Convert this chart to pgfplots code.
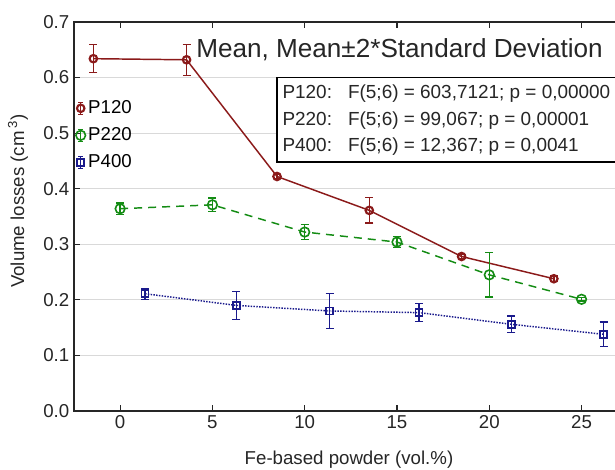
\documentclass[border=0pt]{standalone}
\usepackage{fontspec}
\setmainfont{Liberation Sans}
\usepackage{pgfplots}
\pgfplotsset{compat=1.18}
\definecolor{cred}{RGB}{139,26,26}
\definecolor{cgreen}{RGB}{20,140,20}
\definecolor{cblue}{RGB}{26,26,140}
\begin{document}
\begin{tikzpicture}
\begin{axis}[
  scale only axis,
  width=412.5pt, height=291.75pt,
  xmin=-2.5, xmax=27.3, ymin=0, ymax=0.7,
  xtick={0,5,10,15,20,25},
  ytick={0,0.1,0.2,0.3,0.4,0.5,0.6,0.7},
  /pgf/number format/assume math mode=true,
  yticklabel style={/pgf/number format/fixed,/pgf/number format/fixed zerofill,/pgf/number format/precision=1},
  tick label style={font=\fontsize{14}{16}\selectfont, text=black!85},
  label style={font=\fontsize{14}{16}\selectfont, text=black!85},
  axis line style={line width=1.1pt, black!85},
  tick align=inside,
  tick style={black!85, line width=0.8pt},
  ymajorgrids,
  grid style={gray!30, line width=0.9pt},
  xlabel={Fe-based powder (vol.\%)},
  ylabel={Volume losses (cm\,\textsuperscript{3})},
  x label style={at={(axis description cs:0.5,-0.126)}, anchor=center},
  y label style={at={(axis description cs:-0.102,0.54)}, anchor=center},
  legend style={at={(axis description cs:0.003,0.805)}, anchor=north west, draw=none, fill=none,
    font=\fontsize{14}{16}\selectfont, row sep=5pt, inner xsep=0pt, inner ysep=0pt},
  legend cell align=left,
  legend image code/.code={
    \draw[#1, solid, mark=none, line width=0.9pt] (0.14cm,-0.16cm) -- (0.14cm,0.16cm)
      (0.08cm,-0.16cm) -- (0.20cm,-0.16cm) (0.08cm,0.16cm) -- (0.20cm,0.16cm);
    \draw[#1, solid] plot coordinates {(0.14cm,0cm)};
  },
  clip=false,
]
\addplot[cred, line width=1.1pt, mark=o, mark size=2.8pt, mark options={solid, line width=1.6pt, fill=white},
  error bars/.cd, y dir=both, y explicit,
  error bar style={line width=1pt, solid}, error mark options={line width=1pt, mark size=3pt, solid, rotate=90}]
  table[x=x, y=y, y error=e] {
  x     y      e
  -1.45 0.634  0.025
  3.6   0.632  0.028
  8.5   0.422  0.004
  13.5  0.361  0.023
  18.5  0.278  0.004
  23.5  0.238  0.005
};
\addlegendentry{P120}
\addplot[cgreen, line width=1.1pt, dash pattern=on 6pt off 4.5pt, mark=o, mark size=3.6pt, mark options={solid, line width=1.2pt, fill=white},
  error bars/.cd, y dir=both, y explicit,
  error bar style={line width=1pt, solid}, error mark options={line width=1pt, mark size=3pt, solid, rotate=90}]
  table[x=x, y=y, y error=e] {
  x     y      e
  0     0.364  0.010
  5     0.371  0.012
  10    0.322  0.013
  15    0.304  0.010
  20    0.245  0.040
  25    0.201  0.003
};
\addlegendentry{P220}
\addplot[cblue, line width=1.1pt, densely dotted, mark=square, mark size=2.6pt, mark options={solid, line width=1.2pt, fill=white},
  error bars/.cd, y dir=both, y explicit,
  error bar style={line width=1pt, solid}, error mark options={line width=1pt, mark size=3pt, solid, rotate=90}]
  table[x=x, y=y, y error=e] {
  x     y      e
  1.35  0.211  0.010
  6.3   0.190  0.025
  11.35 0.180  0.032
  16.2  0.177  0.016
  21.2  0.156  0.015
  26.2  0.138  0.022
};
\addlegendentry{P400}
\node[anchor=east, font=\fontsize{19.6}{22}\selectfont, text=black!85, inner sep=0pt]
  at (axis description cs:0.962,0.930) {Mean, Mean±2*Standard Deviation};
\node[anchor=north east, draw=black, line width=1.1pt, fill=white, inner xsep=4pt, inner ysep=2pt,
  font=\fontsize{14.2}{19.8}\selectfont, text=black!85]
  at (axis description cs:0.986,0.859) {%
  \begin{tabular}{@{}l@{\hspace{0.85em}}l@{}}
  P120: & F(5;6) = 603,7121; p = 0,00000\\
  P220: & F(5;6) = 99,067; p = 0,00001\\
  P400: & F(5;6) = 12,367; p = 0,0041
  \end{tabular}};
\end{axis}
\pgfresetboundingbox
\path ([shift={(-55.5pt,-44.25pt)}]current axis.south west) rectangle ++(461.25pt,352.5pt);
\end{tikzpicture}
\end{document}
